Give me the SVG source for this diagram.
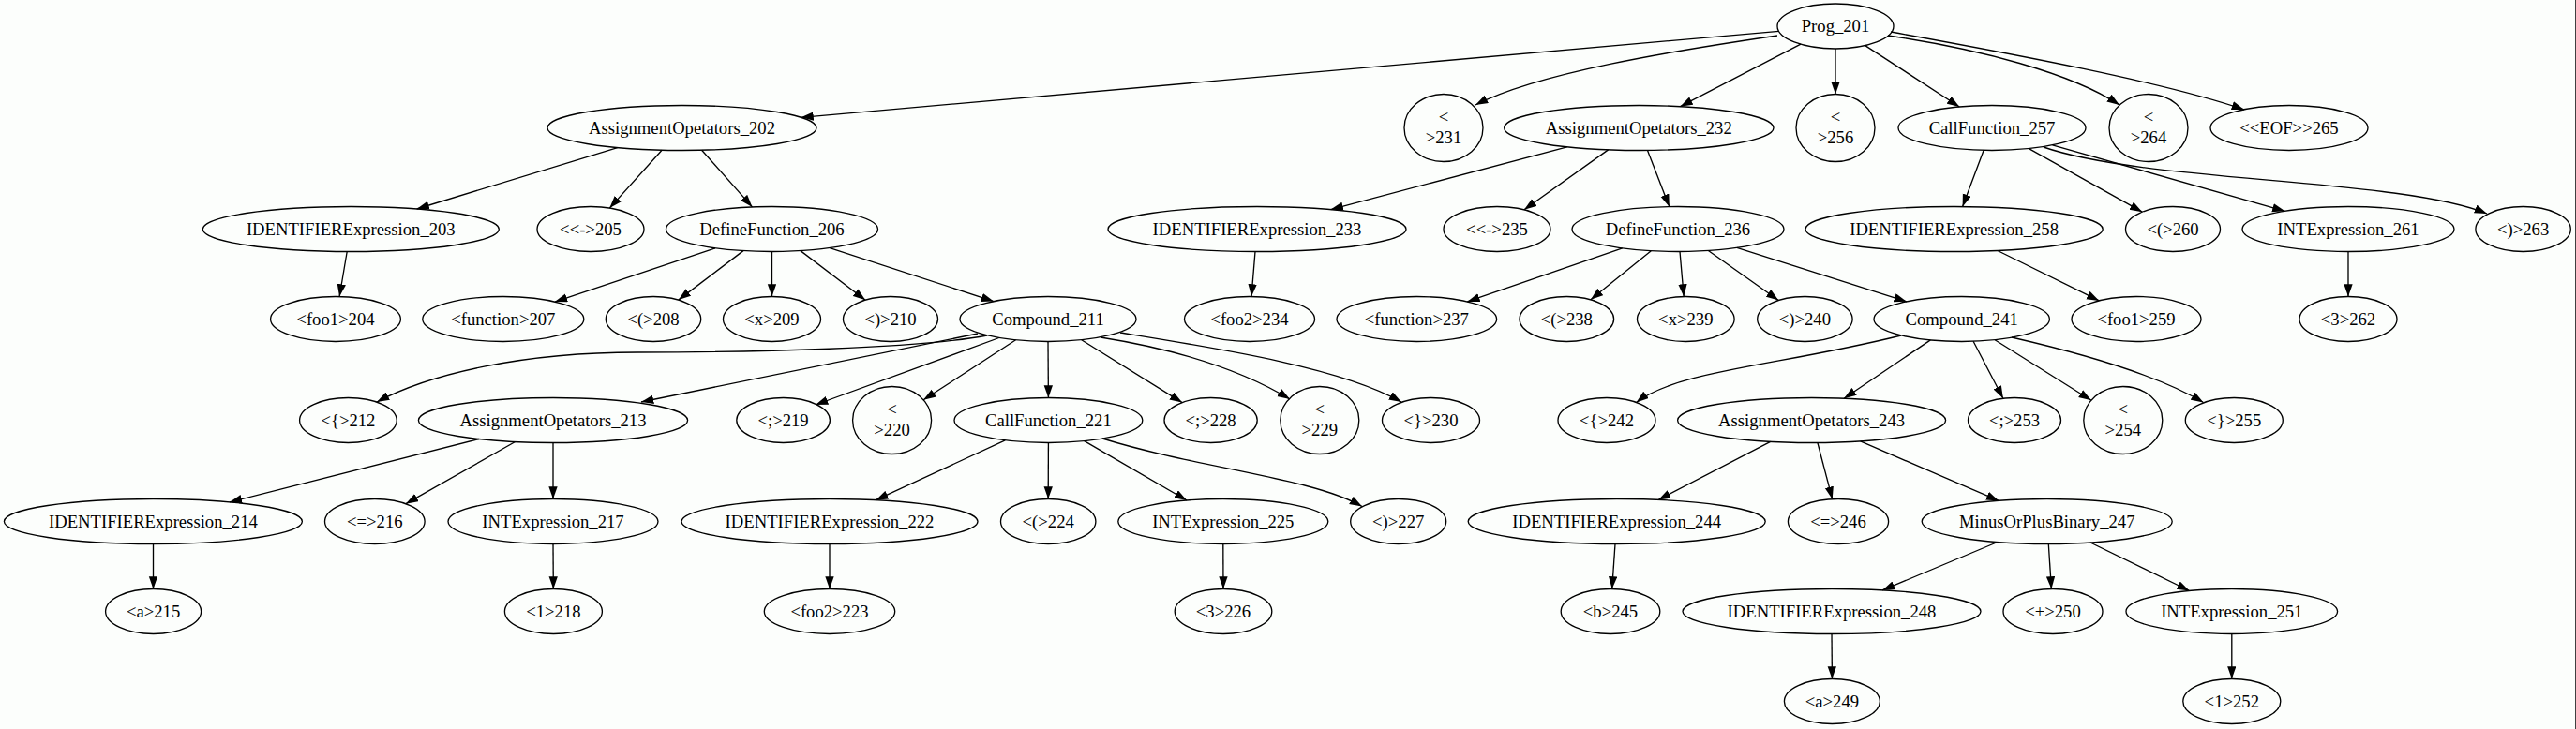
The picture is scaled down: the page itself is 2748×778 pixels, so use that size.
<svg xmlns="http://www.w3.org/2000/svg" width="2748" height="778" viewBox="0 0 2748 778">
<style>
.n ellipse{fill:none;stroke:#000;stroke-width:1.33}
.n text{font-family:"Liberation Serif","Times New Roman",serif;font-size:18.67px;text-anchor:middle;fill:#000}
#edges path{fill:none;stroke:#000;stroke-width:1.33;marker-end:url(#ah)}
</style>
<defs>
<marker id="ah" markerWidth="14" markerHeight="10" refX="13.3" refY="4.67" orient="auto" markerUnits="userSpaceOnUse"><path d="M0,0 L13.3,4.67 L0,9.33 z" fill="#000"/></marker>
</defs>
<rect x="0" y="0" width="2748" height="778" fill="#fcfefc"/>
<line x1="2747.5" y1="0" x2="2747.5" y2="778" stroke="#404040" stroke-width="1"/>
<g id="edges">
<path d="M1897.6,33.3 L854.5,125.3"/>
<path d="M1896,38 C1780,55 1640,78 1574,112"/>
<path d="M1920.9,47.2 L1792.4,113.7"/>
<path d="M1958,52 L1958,100.5"/>
<path d="M1989.7,48.6 L2090.3,114"/>
<path d="M2014,38 C2110,52 2210,78 2261,112"/>
<path d="M2017,34 C2150,58 2310,88 2394,117"/>
<path d="M658.7,157.6 L444.6,223"/>
<path d="M706.1,160.2 L650.3,222.1"/>
<path d="M748.6,160.2 L802.5,220.9"/>
<path d="M370.2,268.5 L362.1,316.5"/>
<path d="M763,264.8 L591.9,322.1"/>
<path d="M793,267.6 L723.8,320.1"/>
<path d="M823.5,268.5 L823.5,316.5"/>
<path d="M854,267.6 L923.2,320.2"/>
<path d="M885.2,264.6 L1060,321.6"/>
<path d="M1053,358 C980,372 800,376 680,376 C560,376 460,398 402,429"/>
<path d="M1043,356 L684,429"/>
<path d="M1065.8,360.5 L870,432"/>
<path d="M1083.6,362.8 L985.1,426.8"/>
<path d="M1118,364.5 L1118.4,424.5"/>
<path d="M1153.7,362.7 L1261.1,429.6"/>
<path d="M1174,360 Q1300,380 1376,426"/>
<path d="M1195,355 C1300,372 1430,392 1495,429"/>
<path d="M510.9,468.5 L244.8,535.9"/>
<path d="M549.5,471.5 L432.9,537.7"/>
<path d="M590,472.5 L590,532.5"/>
<path d="M163.5,580.5 L163.5,628.5"/>
<path d="M590,580.5 L590.3,628.5"/>
<path d="M1072.3,469.8 L934.3,533.7"/>
<path d="M1118.4,472.5 L1118.2,532.5"/>
<path d="M1156.7,470.7 L1266,534"/>
<path d="M1176,468 C1280,500 1400,510 1453,540.5"/>
<path d="M885,580.5 L885,628.5"/>
<path d="M1304.8,580.5 L1305,628.5"/>
<path d="M1671.7,156.8 L1419.7,223.6"/>
<path d="M1715.6,159.9 L1626,223.8"/>
<path d="M1757.5,160.5 L1780.8,220.6"/>
<path d="M1339,268.5 L1335,316.5"/>
<path d="M1730.7,264.9 L1565.3,321.9"/>
<path d="M1761.3,267.7 L1696.9,319.8"/>
<path d="M1792,268.5 L1796.2,316.5"/>
<path d="M1822.4,267.5 L1897.3,320.5"/>
<path d="M1852.9,264.4 L2033.8,321.8"/>
<path d="M2028,358 C1900,390 1790,395 1745.5,429.5"/>
<path d="M2059.4,362.9 L1967.1,425.2"/>
<path d="M2105.1,364.3 L2136.9,425.2"/>
<path d="M2128.1,362.7 L2230.9,427.2"/>
<path d="M2146,360 Q2290,393 2350.5,429.5"/>
<path d="M1888.6,471.3 L1769,533.5"/>
<path d="M1938.9,472.5 L1954.7,532.7"/>
<path d="M1984.6,470.9 L2132.2,534.4"/>
<path d="M1723,580.5 L1719.7,628.5"/>
<path d="M2130.9,578.5 L2008,629.9"/>
<path d="M2185.3,580.5 L2188.4,628.5"/>
<path d="M2229.9,579 L2335.6,630.5"/>
<path d="M1954,676.5 L1954.4,724.5"/>
<path d="M2380.8,676.5 L2380.8,724.5"/>
<path d="M2116.1,160.4 L2093.6,220.5"/>
<path d="M2164.4,158.6 L2285.3,226.2"/>
<path d="M2189.5,154.8 L2437.4,225.3"/>
<path d="M2180,157 C2290,195 2560,190 2653,228"/>
<path d="M2131,267.5 L2239.3,320.9"/>
<path d="M2505,268.5 L2505,316.5"/>
</g>
<g id="n201" class="n"><ellipse cx="1958" cy="28" rx="62" ry="24"/><text x="1958" y="34">Prog_201</text></g>
<g id="n202" class="n"><ellipse cx="727.5" cy="136.5" rx="143.5" ry="24"/><text x="727.5" y="142.5">AssignmentOpetators_202</text></g>
<g id="n231" class="n"><ellipse cx="1540" cy="136.5" rx="42" ry="36"/><text x="1540" y="130.5">&lt;</text><text x="1540" y="153">&gt;231</text></g>
<g id="n232" class="n"><ellipse cx="1748.3" cy="136.5" rx="143.7" ry="24"/><text x="1748.3" y="142.5">AssignmentOpetators_232</text></g>
<g id="n256" class="n"><ellipse cx="1958" cy="136.5" rx="42" ry="36"/><text x="1958" y="130.5">&lt;</text><text x="1958" y="153">&gt;256</text></g>
<g id="n257" class="n"><ellipse cx="2125" cy="136.5" rx="100" ry="24"/><text x="2125" y="142.5">CallFunction_257</text></g>
<g id="n264" class="n"><ellipse cx="2292" cy="136.5" rx="42" ry="36"/><text x="2292" y="130.5">&lt;</text><text x="2292" y="153">&gt;264</text></g>
<g id="n265" class="n"><ellipse cx="2442" cy="136.5" rx="84" ry="24"/><text x="2442" y="142.5">&lt;&lt;EOF&gt;&gt;265</text></g>
<g id="n203" class="n"><ellipse cx="374.3" cy="244.5" rx="158" ry="24"/><text x="374.3" y="250.5">IDENTIFIERExpression_203</text></g>
<g id="n205" class="n"><ellipse cx="630" cy="244.5" rx="57" ry="24"/><text x="630" y="250.5">&lt;&lt;-&gt;205</text></g>
<g id="n206" class="n"><ellipse cx="823.5" cy="244.5" rx="113" ry="24"/><text x="823.5" y="250.5">DefineFunction_206</text></g>
<g id="n233" class="n"><ellipse cx="1341" cy="244.5" rx="159" ry="24"/><text x="1341" y="250.5">IDENTIFIERExpression_233</text></g>
<g id="n235" class="n"><ellipse cx="1597" cy="244.5" rx="57" ry="24"/><text x="1597" y="250.5">&lt;&lt;-&gt;235</text></g>
<g id="n236" class="n"><ellipse cx="1790" cy="244.5" rx="113" ry="24"/><text x="1790" y="250.5">DefineFunction_236</text></g>
<g id="n258" class="n"><ellipse cx="2084.6" cy="244.5" rx="158.6" ry="24"/><text x="2084.6" y="250.5">IDENTIFIERExpression_258</text></g>
<g id="n260" class="n"><ellipse cx="2318" cy="244.5" rx="50.5" ry="24"/><text x="2318" y="250.5">&lt;(&gt;260</text></g>
<g id="n261" class="n"><ellipse cx="2505" cy="244.5" rx="113" ry="24"/><text x="2505" y="250.5">INTExpression_261</text></g>
<g id="n263" class="n"><ellipse cx="2691.6" cy="244.5" rx="50.7" ry="24"/><text x="2691.6" y="250.5">&lt;)&gt;263</text></g>
<g id="n204" class="n"><ellipse cx="358" cy="340.5" rx="69.4" ry="24"/><text x="358" y="346.5">&lt;foo1&gt;204</text></g>
<g id="n207" class="n"><ellipse cx="536.8" cy="340.5" rx="86" ry="24"/><text x="536.8" y="346.5">&lt;function&gt;207</text></g>
<g id="n208" class="n"><ellipse cx="697" cy="340.5" rx="50.7" ry="24"/><text x="697" y="346.5">&lt;(&gt;208</text></g>
<g id="n209" class="n"><ellipse cx="823.5" cy="340.5" rx="52" ry="24"/><text x="823.5" y="346.5">&lt;x&gt;209</text></g>
<g id="n210" class="n"><ellipse cx="950" cy="340.5" rx="50.5" ry="24"/><text x="950" y="346.5">&lt;)&gt;210</text></g>
<g id="n211" class="n"><ellipse cx="1118" cy="340.5" rx="94" ry="24"/><text x="1118" y="346.5">Compound_211</text></g>
<g id="n234" class="n"><ellipse cx="1333" cy="340.5" rx="69.5" ry="24"/><text x="1333" y="346.5">&lt;foo2&gt;234</text></g>
<g id="n237" class="n"><ellipse cx="1511.3" cy="340.5" rx="85.3" ry="24"/><text x="1511.3" y="346.5">&lt;function&gt;237</text></g>
<g id="n238" class="n"><ellipse cx="1671.3" cy="340.5" rx="50.3" ry="24"/><text x="1671.3" y="346.5">&lt;(&gt;238</text></g>
<g id="n239" class="n"><ellipse cx="1798.3" cy="340.5" rx="51.8" ry="24"/><text x="1798.3" y="346.5">&lt;x&gt;239</text></g>
<g id="n240" class="n"><ellipse cx="1925.4" cy="340.5" rx="50.7" ry="24"/><text x="1925.4" y="346.5">&lt;)&gt;240</text></g>
<g id="n241" class="n"><ellipse cx="2092.7" cy="340.5" rx="93.7" ry="24"/><text x="2092.7" y="346.5">Compound_241</text></g>
<g id="n259" class="n"><ellipse cx="2279" cy="340.5" rx="69" ry="24"/><text x="2279" y="346.5">&lt;foo1&gt;259</text></g>
<g id="n262" class="n"><ellipse cx="2505" cy="340.5" rx="52" ry="24"/><text x="2505" y="346.5">&lt;3&gt;262</text></g>
<g id="n212" class="n"><ellipse cx="371.4" cy="448.5" rx="51.8" ry="24"/><text x="371.4" y="454.5">&lt;{&gt;212</text></g>
<g id="n213" class="n"><ellipse cx="590" cy="448.5" rx="143.6" ry="24"/><text x="590" y="454.5">AssignmentOpetators_213</text></g>
<g id="n219" class="n"><ellipse cx="835.6" cy="448.5" rx="49.8" ry="24"/><text x="835.6" y="454.5">&lt;;&gt;219</text></g>
<g id="n220" class="n"><ellipse cx="951.6" cy="448.5" rx="42" ry="36"/><text x="951.6" y="442.5">&lt;</text><text x="951.6" y="465">&gt;220</text></g>
<g id="n221" class="n"><ellipse cx="1118.4" cy="448.5" rx="100.4" ry="24"/><text x="1118.4" y="454.5">CallFunction_221</text></g>
<g id="n228" class="n"><ellipse cx="1291.6" cy="448.5" rx="49.6" ry="24"/><text x="1291.6" y="454.5">&lt;;&gt;228</text></g>
<g id="n229" class="n"><ellipse cx="1407.8" cy="448.5" rx="42" ry="36"/><text x="1407.8" y="442.5">&lt;</text><text x="1407.8" y="465">&gt;229</text></g>
<g id="n230" class="n"><ellipse cx="1526.5" cy="448.5" rx="52" ry="24"/><text x="1526.5" y="454.5">&lt;}&gt;230</text></g>
<g id="n242" class="n"><ellipse cx="1714" cy="448.5" rx="52" ry="24"/><text x="1714" y="454.5">&lt;{&gt;242</text></g>
<g id="n243" class="n"><ellipse cx="1932.6" cy="448.5" rx="143" ry="24"/><text x="1932.6" y="454.5">AssignmentOpetators_243</text></g>
<g id="n253" class="n"><ellipse cx="2149" cy="448.5" rx="49.5" ry="24"/><text x="2149" y="454.5">&lt;;&gt;253</text></g>
<g id="n254" class="n"><ellipse cx="2264.8" cy="448.5" rx="42" ry="36"/><text x="2264.8" y="442.5">&lt;</text><text x="2264.8" y="465">&gt;254</text></g>
<g id="n255" class="n"><ellipse cx="2383.3" cy="448.5" rx="52" ry="24"/><text x="2383.3" y="454.5">&lt;}&gt;255</text></g>
<g id="n214" class="n"><ellipse cx="163.4" cy="556.5" rx="159" ry="24"/><text x="163.4" y="562.5">IDENTIFIERExpression_214</text></g>
<g id="n216" class="n"><ellipse cx="399.8" cy="556.5" rx="53.3" ry="24"/><text x="399.8" y="562.5">&lt;=&gt;216</text></g>
<g id="n217" class="n"><ellipse cx="590" cy="556.5" rx="112" ry="24"/><text x="590" y="562.5">INTExpression_217</text></g>
<g id="n222" class="n"><ellipse cx="885" cy="556.5" rx="158" ry="24"/><text x="885" y="562.5">IDENTIFIERExpression_222</text></g>
<g id="n224" class="n"><ellipse cx="1118.2" cy="556.5" rx="50.7" ry="24"/><text x="1118.2" y="562.5">&lt;(&gt;224</text></g>
<g id="n225" class="n"><ellipse cx="1304.8" cy="556.5" rx="112" ry="24"/><text x="1304.8" y="562.5">INTExpression_225</text></g>
<g id="n227" class="n"><ellipse cx="1491.7" cy="556.5" rx="51" ry="24"/><text x="1491.7" y="562.5">&lt;)&gt;227</text></g>
<g id="n244" class="n"><ellipse cx="1724.7" cy="556.5" rx="158.5" ry="24"/><text x="1724.7" y="562.5">IDENTIFIERExpression_244</text></g>
<g id="n246" class="n"><ellipse cx="1961" cy="556.5" rx="53.6" ry="24"/><text x="1961" y="562.5">&lt;=&gt;246</text></g>
<g id="n247" class="n"><ellipse cx="2183.7" cy="556.5" rx="133.5" ry="24"/><text x="2183.7" y="562.5">MinusOrPlusBinary_247</text></g>
<g id="n215" class="n"><ellipse cx="163.6" cy="652.5" rx="51" ry="24"/><text x="163.6" y="658.5">&lt;a&gt;215</text></g>
<g id="n218" class="n"><ellipse cx="590.4" cy="652.5" rx="52" ry="24"/><text x="590.4" y="658.5">&lt;1&gt;218</text></g>
<g id="n223" class="n"><ellipse cx="885" cy="652.5" rx="69.7" ry="24"/><text x="885" y="658.5">&lt;foo2&gt;223</text></g>
<g id="n226" class="n"><ellipse cx="1305" cy="652.5" rx="51.8" ry="24"/><text x="1305" y="658.5">&lt;3&gt;226</text></g>
<g id="n245" class="n"><ellipse cx="1718" cy="652.5" rx="52.8" ry="24"/><text x="1718" y="658.5">&lt;b&gt;245</text></g>
<g id="n248" class="n"><ellipse cx="1954" cy="652.5" rx="159" ry="24"/><text x="1954" y="658.5">IDENTIFIERExpression_248</text></g>
<g id="n250" class="n"><ellipse cx="2190" cy="652.5" rx="53" ry="24"/><text x="2190" y="658.5">&lt;+&gt;250</text></g>
<g id="n251" class="n"><ellipse cx="2380.8" cy="652.5" rx="112.8" ry="24"/><text x="2380.8" y="658.5">INTExpression_251</text></g>
<g id="n249" class="n"><ellipse cx="1954.4" cy="748.5" rx="51" ry="24"/><text x="1954.4" y="754.5">&lt;a&gt;249</text></g>
<g id="n252" class="n"><ellipse cx="2380.8" cy="748.5" rx="52" ry="24"/><text x="2380.8" y="754.5">&lt;1&gt;252</text></g>
</svg>
